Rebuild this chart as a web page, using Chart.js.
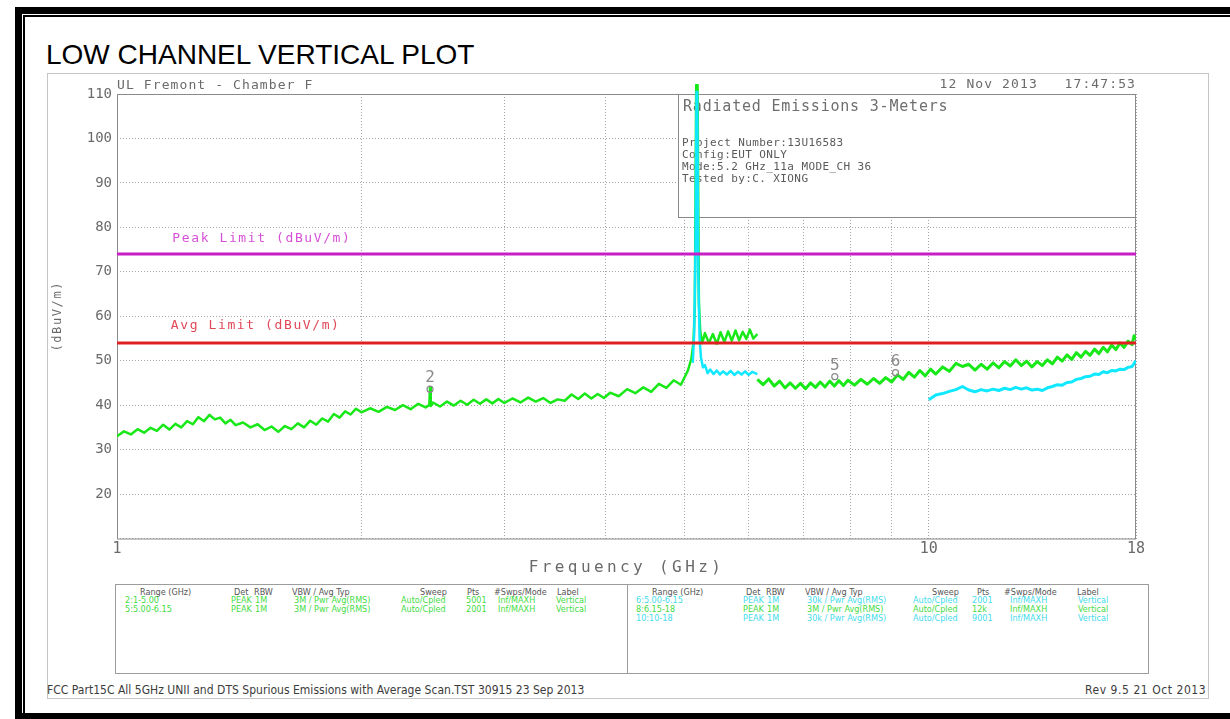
<!DOCTYPE html>
<html>
<head>
<meta charset="utf-8">
<title>LOW CHANNEL VERTICAL PLOT</title>
<script src="https://cdn.jsdelivr.net/npm/chart.js@4.4.0/dist/chart.umd.min.js"></script>
<style>
  html, body { margin: 0; padding: 0; background: #fff; overflow: hidden; }
  body { width: 1230px; height: 719px; position: relative; font-family: "Liberation Sans", Arial, sans-serif; }
  .bar { position: absolute; background: #000; }
  .title { position: absolute; left: 46px; top: 41px; font-size: 28px; line-height: 1; color: #000; white-space: nowrap; }
  .shot { position: absolute; left: 47px; top: 73px; width: 1162px; height: 626px; border: 1px solid #c6c6c6; box-sizing: border-box; }
  #chart { position: absolute; left: 47px; top: 73px; }
  .tbl { position: absolute; border: 1px solid #9c9c9c; box-sizing: border-box; }
  .t { position: absolute; white-space: nowrap; font-family: "Liberation Sans Narrow", "DejaVu Sans Condensed", sans-serif; font-size: 9px; line-height: 1; transform: translateY(-50%); }
  .foot { position: absolute; white-space: nowrap; font-family: "Liberation Sans Narrow", "DejaVu Sans Condensed", sans-serif; font-size: 12px; line-height: 1; color: #3c3c3c; transform: translateY(-50%); }
</style>
</head>
<body>
<div class="bar" style="left:15px; top:7px; width:1215px; height:7px;"></div>
<div class="bar" style="left:23px; top:15px; width:1207px; height:2px;"></div>
<div class="bar" style="left:15px; top:7px; width:7px; height:712px;"></div>
<div class="bar" style="left:23px; top:15px; width:2px; height:698px;"></div>
<div class="bar" style="left:15px; top:713px; width:1215px; height:6px;"></div>
<div class="title">LOW CHANNEL VERTICAL PLOT</div>
<div class="shot"></div>
<canvas id="chart" width="1162" height="509"></canvas>
<div class="tbl" style="left:115px; top:584px; width:1034px; height:90px;"></div>
<div class="tbl" style="left:627px; top:584px; width:1px; height:90px; border-width:0 0 0 1px;"></div>
<div class="foot" style="left:47px; top:690px; letter-spacing:0.02px;">FCC Part15C All 5GHz UNII and DTS Spurious Emissions with Average Scan.TST 30915 23 Sep 2013</div>
<div class="foot" style="left:1085px; top:690px; letter-spacing:0.55px;">Rev 9.5 21 Oct 2013</div>

<script>
'use strict';

// axis
var xGridGHz = [1, 2, 3, 4, 5, 6, 7, 8, 9, 10, 18];
var xTickShown = [1, 10, 18];
var yMin = 10, yMax = 110, yStep = 10;

// green trace (peak detector), ranges 2 + 5 : 1 - 6.15 GHz
var greenLowGHz = [1.00, 1.02, 1.04, 1.06, 1.08, 1.10, 1.12, 1.14, 1.16, 1.18, 1.20, 1.22, 1.24, 1.26, 1.28, 1.30, 1.32, 1.34, 1.36, 1.38, 1.40,
  1.43, 1.46, 1.49, 1.52, 1.55, 1.58, 1.61, 1.64, 1.67, 1.70, 1.73, 1.76, 1.79, 1.82, 1.85, 1.88, 1.91, 1.94, 1.97, 2.00,
  2.05, 2.10, 2.15, 2.20, 2.25, 2.30, 2.35, 2.40, 2.425, 2.43, 2.435, 2.45, 2.50, 2.55, 2.60, 2.65, 2.70, 2.75, 2.80, 2.85, 2.90, 2.95, 3.00,
  3.07, 3.14, 3.21, 3.28, 3.35, 3.42, 3.49, 3.56, 3.63, 3.70, 3.77, 3.84, 3.91, 3.98, 4.05,
  4.15, 4.25, 4.35, 4.45, 4.55, 4.65, 4.75, 4.85, 4.95, 5.05,
  5.10, 5.13, 5.15, 5.17, 5.19, 5.21, 5.23, 5.26,
  5.30, 5.36, 5.42, 5.48, 5.54, 5.60, 5.66, 5.72, 5.78, 5.84, 5.90, 5.96, 6.02, 6.08, 6.15];
var greenLowLevel = [33.0, 34.1, 33.4, 34.6, 33.8, 34.9, 34.2, 35.6, 34.5, 35.8, 35.0, 36.4, 35.7, 37.3, 36.4, 37.8, 36.8, 37.2, 35.9, 36.7, 35.5,
  36.1, 35.0, 35.7, 34.4, 35.2, 34.0, 35.3, 34.6, 35.9, 35.0, 36.5, 35.6, 37.0, 36.3, 38.0, 37.2, 38.6, 37.9, 39.2, 38.4,
  39.3, 38.5, 39.6, 38.9, 40.0, 39.1, 40.3, 39.5, 40.0, 44.0, 39.8, 40.6, 39.7, 40.8, 39.9, 41.0, 40.1, 41.2, 40.3, 41.3, 40.4, 41.4, 40.5,
  41.5, 40.6, 41.7, 40.8, 41.6, 40.5, 41.3, 41.0, 42.4, 41.4, 42.6, 41.5, 42.5, 41.6, 42.8,
  42.0, 43.6, 42.7, 44.0, 43.0, 44.8, 43.9, 45.6, 44.6, 47.8,
  50.5, 54.0, 62.0, 112.0, 112.0, 63.0, 56.5, 54.0,
  56.2, 54.0, 56.0, 53.8, 56.4, 54.2, 56.6, 54.5, 56.8, 54.6, 56.5, 54.9, 57.0, 55.0, 56.0];

// green trace, range 8 : 6.15 - 18 GHz
var greenHighGHz = [6.15, 6.25, 6.35, 6.45, 6.55, 6.65, 6.75, 6.85, 6.95, 7.05, 7.15, 7.25, 7.35, 7.45, 7.55, 7.65, 7.75, 7.85, 7.95,
  8.10, 8.25, 8.40, 8.55, 8.70, 8.85, 9.00, 9.15, 9.30, 9.45, 9.60, 9.75, 9.90,
  10.05, 10.20, 10.40, 10.60, 10.80, 11.00, 11.20, 11.40, 11.60, 11.80, 12.00, 12.20, 12.40, 12.60, 12.80, 13.00, 13.20, 13.40, 13.60, 13.80,
  14.00, 14.20, 14.40, 14.60, 14.80, 15.00, 15.20, 15.40, 15.60, 15.80, 16.00, 16.20, 16.40, 16.60, 16.80, 17.00, 17.20, 17.40, 17.60, 17.80, 17.90, 18.00];
var greenHighLevel = [45.8, 44.6, 45.9, 44.3, 45.4, 43.9, 45.0, 43.8, 44.9, 43.7, 45.0, 44.0, 45.2, 44.1, 45.4, 44.3, 45.5, 44.4, 45.6,
  44.5, 45.8, 44.7, 46.0, 44.9, 46.2, 45.2, 46.8, 45.8, 47.4, 46.3, 47.8, 46.6,
  48.1, 47.0, 48.6, 47.6, 49.4, 48.7, 49.2, 47.9, 49.2, 48.1, 49.5, 48.4, 49.8, 48.8, 50.2, 48.9, 49.9, 48.6, 49.8, 48.9,
  50.2, 49.3, 50.8, 49.9, 51.3, 50.3, 51.8, 50.8, 52.1, 51.2, 52.6, 51.6, 53.0, 52.0, 53.5, 52.5, 54.0, 53.0, 54.4, 53.6, 55.6, 54.8];

// cyan trace (average), range 6 : around the fundamental up to 6.15 GHz
var cyanLowGHz = [5.12, 5.14, 5.16, 5.175, 5.185, 5.20, 5.22, 5.24, 5.27, 5.30, 5.34, 5.38, 5.43, 5.48, 5.53, 5.58, 5.64, 5.70, 5.76, 5.82, 5.88, 5.94, 6.00, 6.06, 6.15];
var cyanLowLevel = [49.5, 56.0, 75.0, 110.5, 110.5, 70.0, 55.0, 50.8, 48.5, 49.0, 47.2, 48.0, 47.0, 47.8, 46.9, 47.6, 46.9, 47.7, 46.8, 47.5, 46.9, 47.6, 46.8, 47.5, 47.0];

// cyan trace, range 10 : 10 - 18 GHz
var cyanHighGHz = [10.00, 10.20, 10.40, 10.60, 10.80, 11.00, 11.20, 11.40, 11.60, 11.80, 12.00, 12.20, 12.40, 12.60, 12.80, 13.00, 13.20, 13.40, 13.60, 13.80,
  14.00, 14.20, 14.40, 14.60, 14.80, 15.00, 15.20, 15.40, 15.60, 15.80, 16.00, 16.20, 16.40, 16.60, 16.80, 17.00, 17.20, 17.40, 17.60, 17.80, 18.00];
var cyanHighLevel = [41.2, 42.3, 42.6, 43.1, 43.5, 44.2, 43.4, 43.0, 43.5, 43.2, 43.6, 43.3, 43.8, 43.5, 44.0, 43.6, 43.9, 43.4, 43.6, 43.3,
  43.9, 44.2, 44.6, 44.5, 45.1, 45.2, 45.8, 46.0, 46.4, 46.5, 47.0, 46.9, 47.5, 47.3, 47.8, 47.7, 48.1, 48.0, 48.5, 48.7, 50.0];

// limits
var limitGHz = [1, 18];
var peakLimit = [74, 74];
var avgLimit = [54, 54];

// markers
var markerName = ['2', '5', '6'];
var markerGHz = [2.43, 7.66, 9.10];
var markerLevel = [43.6, 46.4, 47.3];

var infoTitle = 'Radiated Emissions 3-Meters';
var infoLines = ['Project Number:13U16583', 'Config:EUT ONLY', 'Mode:5.2 GHz_11a MODE_CH 36', 'Tested by:C. XIONG'];

function pts(xs, ys) {
  return xs.map(function (x, i) { return {x: x, y: ys[i]}; });
}

var MONO = '"DejaVu Sans Mono", "Liberation Mono", monospace';

function label(ctx, text, x, y, font, color, align, spacing) {
  ctx.font = font;
  ctx.fillStyle = color;
  ctx.textAlign = align || 'left';
  ctx.textBaseline = 'middle';
  if ('letterSpacing' in ctx) ctx.letterSpacing = (spacing || 0) + 'px';
  ctx.fillText(text, x, y);
  if ('letterSpacing' in ctx) ctx.letterSpacing = '0px';
}

var decor = {
  id: 'decor',
  beforeDatasetsDraw: function (chart) {
    var ctx = chart.ctx, a = chart.chartArea;
    ctx.save();
    ctx.strokeStyle = '#8a8a8a';
    ctx.lineWidth = 1;
    ctx.strokeRect(a.left + 0.5, a.top + 0.5, a.right - a.left - 1, a.bottom - a.top);
    // info box
    var bx = 631, by = a.top, bw = a.right - bx, bh = 123;
    ctx.fillStyle = '#fff';
    ctx.fillRect(bx, by, bw, bh);
    ctx.strokeRect(bx + 0.5, by + 0.5, bw - 1, bh);
    label(ctx, infoTitle, bx + 5, by + 13, '15px ' + MONO, '#6e6e6e', 'left', 0.8);
    infoLines.forEach(function (s, i) {
      label(ctx, s, bx + 4, by + 49 + i * 12, '11px ' + MONO, '#5a5a5a', 'left', 0.4);
    });
    ctx.restore();
  },
  afterDatasetsDraw: function (chart) {
    var ctx = chart.ctx, xs = chart.scales.x, ys = chart.scales.y;
    ctx.save();
    label(ctx, 'Peak Limit (dBuV/m)', xs.getPixelForValue(1.17), ys.getPixelForValue(peakLimit[0]) - 15, '13px ' + MONO, '#d850d8', 'left', 1.6);
    label(ctx, 'Avg Limit (dBuV/m)', xs.getPixelForValue(1.165), ys.getPixelForValue(avgLimit[0]) - 17, '13px ' + MONO, '#e04858', 'left', 1.6);
    markerName.forEach(function (m, i) {
      var px = xs.getPixelForValue(markerGHz[i]), py = ys.getPixelForValue(markerLevel[i]);
      ctx.strokeStyle = '#8a8a8a';
      ctx.lineWidth = 1.2;
      ctx.beginPath();
      ctx.arc(px, py, 3, 0, Math.PI * 2);
      ctx.stroke();
      label(ctx, m, px, py - 11, '16px ' + MONO, '#8a8a8a', 'center', 0);
    });
    ctx.restore();
  },
  afterDraw: function (chart) {
    var ctx = chart.ctx, a = chart.chartArea;
    ctx.save();
    label(ctx, 'UL Fremont - Chamber F', a.left, 13, '13px ' + MONO, '#6a6a6a', 'left', 1.1);
    label(ctx, '12 Nov 2013   17:47:53', a.right, 12, '13px ' + MONO, '#6a6a6a', 'right', 1.1);
    label(ctx, 'Frequency (GHz)', (a.left + a.right) / 2, 495, '16px ' + MONO, '#6a6a6a', 'center', 3.4);
    ctx.translate(11, (a.top + a.bottom) / 2);
    ctx.rotate(-Math.PI / 2);
    label(ctx, '(dBuV/m)', 0, 0, '12px ' + MONO, '#6a6a6a', 'center', 1.6);
    ctx.restore();
  }
};

Chart.defaults.font.family = MONO;

var ctx = document.getElementById('chart').getContext('2d');
var chart = new Chart(ctx, {
  type: 'line',
  data: {
    datasets: [
      {data: pts(limitGHz, peakLimit), borderColor: '#c81ec8', borderWidth: 3},
      {data: pts(limitGHz, avgLimit), borderColor: '#e02020', borderWidth: 3},
      {data: pts(cyanLowGHz, cyanLowLevel), borderColor: '#10e8ff', borderWidth: 2.5, clip: {left: 0, top: 10, right: 0, bottom: 0}},
      {data: pts(cyanHighGHz, cyanHighLevel), borderColor: '#10e8ff', borderWidth: 3},
      {data: pts(greenLowGHz, greenLowLevel), borderColor: '#18e818', borderWidth: 2.5, clip: {left: 0, top: 10, right: 0, bottom: 0}},
      {data: pts(greenHighGHz, greenHighLevel), borderColor: '#18e818', borderWidth: 3}
    ]
  },
  options: {
    responsive: false,
    animation: false,
    layout: {padding: {left: 0, right: 73, top: 21, bottom: 0}},
    elements: {point: {radius: 0}, line: {tension: 0, borderJoinStyle: 'round'}},
    plugins: {legend: {display: false}, tooltip: {enabled: false}},
    scales: {
      x: {
        type: 'logarithmic',
        min: 1,
        max: 18,
        afterBuildTicks: function (s) { s.ticks = xGridGHz.map(function (v) { return {value: v}; }); },
        afterFit: function (s) { s.height = 43.5; },
        ticks: {
          autoSkip: false,
          maxRotation: 0,
          padding: 2,
          color: '#6a6a6a',
          font: {size: 15},
          callback: function (v) { return xTickShown.indexOf(v) >= 0 ? String(v) : ''; }
        },
        grid: {color: '#a4a4a4', lineWidth: 1, drawTicks: false},
        border: {display: false, dash: [1, 2]}
      },
      y: {
        min: yMin,
        max: yMax,
        afterFit: function (s) { s.width = 70; },
        ticks: {
          stepSize: yStep,
          padding: 5,
          color: '#6a6a6a',
          font: {size: 14},
          callback: function (v) { return v === yMin ? '' : String(v); }
        },
        grid: {color: '#a4a4a4', lineWidth: 1, drawTicks: false},
        border: {display: false, dash: [1, 2]}
      }
    }
  },
  plugins: [decor]
});

// settings table under the plot
var hdrColor = '#555', grn = '#44dc44', cyn = '#44dcec';
var tableCells = [
  // left half
  [140, 592, 'Range (GHz)', hdrColor], [234, 592, 'Det', hdrColor], [254, 592, 'RBW', hdrColor], [292, 592, 'VBW / Avg Typ', hdrColor],
  [420, 592, 'Sweep', hdrColor], [467, 592, 'Pts', hdrColor], [494, 592, '#Swps/Mode', hdrColor], [557, 592, 'Label', hdrColor],
  [125, 600, '2:1-5.00', grn], [231, 600, 'PEAK', grn], [255, 600, '1M', grn], [294, 600, '3M / Pwr Avg(RMS)', grn],
  [401, 600, 'Auto/Cpled', grn], [466, 600, '5001', grn], [498, 600, 'Inf/MAXH', grn], [556, 600, 'Vertical', grn],
  [125, 609, '5:5.00-6.15', grn], [231, 609, 'PEAK', grn], [255, 609, '1M', grn], [294, 609, '3M / Pwr Avg(RMS)', grn],
  [401, 609, 'Auto/Cpled', grn], [466, 609, '2001', grn], [498, 609, 'Inf/MAXH', grn], [556, 609, 'Vertical', grn],
  // right half
  [652, 592, 'Range (GHz)', hdrColor], [746, 592, 'Det', hdrColor], [766, 592, 'RBW', hdrColor], [805, 592, 'VBW / Avg Typ', hdrColor],
  [932, 592, 'Sweep', hdrColor], [977, 592, 'Pts', hdrColor], [1004, 592, '#Swps/Mode', hdrColor], [1077, 592, 'Label', hdrColor],
  [636, 600, '6:5.00-6.15', cyn], [743, 600, 'PEAK', cyn], [767, 600, '1M', cyn], [807, 600, '30k / Pwr Avg(RMS)', cyn],
  [913, 600, 'Auto/Cpled', cyn], [972, 600, '2001', cyn], [1010, 600, 'Inf/MAXH', cyn], [1078, 600, 'Vertical', cyn],
  [636, 609, '8:6.15-18', grn], [743, 609, 'PEAK', grn], [767, 609, '1M', grn], [807, 609, '3M / Pwr Avg(RMS)', grn],
  [913, 609, 'Auto/Cpled', grn], [972, 609, '12k', grn], [1010, 609, 'Inf/MAXH', grn], [1078, 609, 'Vertical', grn],
  [636, 618, '10:10-18', cyn], [743, 618, 'PEAK', cyn], [767, 618, '1M', cyn], [807, 618, '30k / Pwr Avg(RMS)', cyn],
  [913, 618, 'Auto/Cpled', cyn], [972, 618, '9001', cyn], [1010, 618, 'Inf/MAXH', cyn], [1078, 618, 'Vertical', cyn]
];
tableCells.forEach(function (c) {
  var d = document.createElement('div');
  d.className = 't';
  d.style.left = c[0] + 'px';
  d.style.top = c[1] + 'px';
  d.style.color = c[3];
  d.textContent = c[2];
  document.body.appendChild(d);
});
</script>
</body>
</html>
